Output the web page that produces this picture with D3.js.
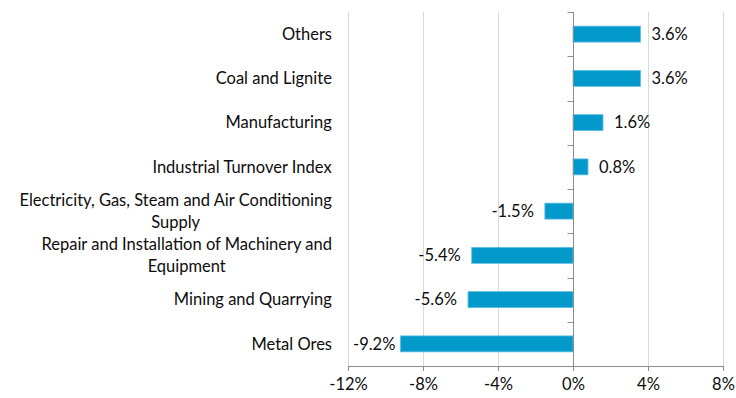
<!DOCTYPE html>
<html>
<head>
<meta charset="utf-8">
<script src="https://cdn.jsdelivr.net/npm/d3@7"></script>
<style>
  html, body { margin: 0; padding: 0; background: #ffffff; }
  svg text { font-family: Lato, "Open Sans", sans-serif; fill: #0d0d0d; }
</style>
</head>
<body>
<svg id="chart" width="736" height="398"></svg>
<script>
// Year-on-year change by sector (%), top to bottom
const categories = [
  "Others",
  "Coal and Lignite",
  "Manufacturing",
  "Industrial Turnover Index",
  "Electricity, Gas, Steam and Air Conditioning\nSupply",
  "Repair and Installation of Machinery and\nEquipment",
  "Mining and Quarrying",
  "Metal Ores"
];
const values = [3.6, 3.6, 1.6, 0.8, -1.5, -5.4, -5.6, -9.2];
const xTicks = [-12, -8, -4, 0, 4, 8];

const svg = d3.select("#chart");
const plotLeft = 348, plotRight = 723, plotTop = 12, plotBottom = 366;
const fontSize = 16.5;

const x = d3.scaleLinear().domain([-12, 8]).range([plotLeft, plotRight]);
const y = d3.scaleBand().domain(categories).range([plotTop, plotBottom]).paddingInner(0.64).paddingOuter(0.32);

// vertical gridlines
svg.append("g").selectAll("line").data(xTicks.filter(d => d !== 0)).join("line")
  .attr("x1", d => x(d) + 0.5).attr("x2", d => x(d) + 0.5)
  .attr("y1", plotTop).attr("y2", plotBottom)
  .attr("stroke", "#d9d9d9").attr("stroke-width", 1);

// bars
svg.append("g").selectAll("rect").data(values).join("rect")
  .attr("x", d => Math.min(x(0), x(d)))
  .attr("width", d => Math.abs(x(d) - x(0)))
  .attr("y", (d, i) => y(categories[i]))
  .attr("height", y.bandwidth())
  .attr("fill", "#0399cb")
  .attr("stroke", "#5cbde3").attr("stroke-width", 0.8);

// bottom axis
const xAxis = d3.axisBottom(x).tickValues(xTicks).tickFormat(d => d + "%").tickSize(5).tickSizeOuter(0);
const gx = svg.append("g").attr("transform", `translate(0,${plotBottom})`).call(xAxis);
gx.select(".domain").attr("stroke", "#8c8c8c");
gx.selectAll(".tick line").attr("stroke", "#8c8c8c");
gx.selectAll(".tick text").attr("font-size", fontSize).attr("dy", "0.95em").attr("y", 8)
  .attr("font-family", "Lato, sans-serif").attr("fill", "#0d0d0d");

// category axis at zero, with ticks between bands
const zx = x(0) + 0.5;
svg.append("line").attr("x1", zx).attr("x2", zx).attr("y1", plotTop).attr("y2", plotBottom)
  .attr("stroke", "#8c8c8c");
d3.range(categories.length + 1).forEach(i => {
  const yy = Math.round(plotTop + i * (plotBottom - plotTop) / categories.length) + 0.5;
  svg.append("line").attr("x1", zx - 6).attr("x2", zx).attr("y1", yy).attr("y2", yy)
    .attr("stroke", "#8c8c8c");
});

// category labels: centred multi-line blocks, right edge aligned
const labelRight = 332;
const lineH = 21.5;
categories.forEach((c, i) => {
  const lines = c.split("\n");
  const cy = y(c) + y.bandwidth() / 2;
  const t = svg.append("text").attr("font-size", fontSize).attr("text-anchor", "middle");
  lines.forEach((ln, j) => {
    t.append("tspan").attr("x", 0)
      .attr("y", cy + (j - (lines.length - 1) / 2) * lineH)
      .attr("dy", "0.35em").text(ln);
  });
  const w = t.node().getBBox().width;
  t.selectAll("tspan").attr("x", labelRight - w / 2);
});

// value labels, kept inside the plot area
const vl = svg.append("g").selectAll("text").data(values).join("text")
  .attr("font-size", fontSize)
  .attr("y", (d, i) => y(categories[i]) + y.bandwidth() / 2)
  .attr("dy", "0.35em")
  .attr("text-anchor", d => d >= 0 ? "start" : "end")
  .text(d => d.toFixed(1) + "%");
vl.attr("x", function (d) {
  if (d >= 0) return x(d) + 11;
  const w = this.getComputedTextLength();
  return Math.max(x(d) - 11, plotLeft + w + 5);
});
</script>
</body>
</html>
